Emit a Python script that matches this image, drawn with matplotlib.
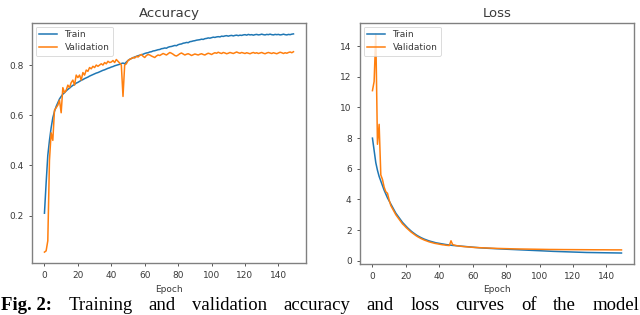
import matplotlib
matplotlib.use("Agg")
import matplotlib.pyplot as plt

epochs = list(range(150))

train_acc = [
    0.21, 0.33, 0.44, 0.50, 0.55, 0.59, 0.615, 0.635, 0.65, 0.665,
    0.675, 0.684, 0.690, 0.697, 0.703, 0.708, 0.714, 0.719, 0.723, 0.728,
    0.731, 0.735, 0.739, 0.742, 0.746, 0.749, 0.752, 0.756, 0.759, 0.762,
    0.765, 0.768, 0.770, 0.773, 0.776, 0.779, 0.781, 0.784, 0.787, 0.789,
    0.792, 0.794, 0.797, 0.799, 0.801, 0.803, 0.806, 0.808, 0.805, 0.812,
    0.818, 0.823, 0.826, 0.829, 0.832, 0.834, 0.837, 0.839, 0.841, 0.843,
    0.846, 0.848, 0.849, 0.852, 0.853, 0.856, 0.857, 0.859, 0.861, 0.862,
    0.865, 0.866, 0.868, 0.867, 0.871, 0.873, 0.874, 0.876, 0.878, 0.877,
    0.881, 0.883, 0.884, 0.887, 0.888, 0.890, 0.889, 0.893, 0.894, 0.896,
    0.897, 0.899, 0.900, 0.901, 0.903, 0.902, 0.905, 0.906, 0.908, 0.907,
    0.909, 0.911, 0.910, 0.912, 0.913, 0.912, 0.915, 0.914, 0.916, 0.917,
    0.915, 0.917, 0.918, 0.916, 0.918, 0.919, 0.917, 0.919, 0.918, 0.920,
    0.921, 0.919, 0.922, 0.920, 0.921, 0.919, 0.921, 0.922, 0.920, 0.921,
    0.923, 0.921, 0.920, 0.922, 0.921, 0.923, 0.921, 0.920, 0.922, 0.921,
    0.922, 0.920, 0.921, 0.923, 0.921, 0.920, 0.922, 0.921, 0.923, 0.924,
]

val_acc = [
    0.055, 0.06, 0.10, 0.42, 0.53, 0.50, 0.62, 0.63, 0.64, 0.66,
    0.61, 0.71, 0.69, 0.70, 0.72, 0.71, 0.73, 0.74, 0.72, 0.76,
    0.75, 0.76, 0.74, 0.77, 0.76, 0.78, 0.775, 0.79, 0.785, 0.795,
    0.79, 0.80, 0.795, 0.80, 0.805, 0.80, 0.81, 0.805, 0.815, 0.81,
    0.812, 0.818, 0.81, 0.822, 0.815, 0.808, 0.80, 0.675, 0.80, 0.805,
    0.818, 0.822, 0.826, 0.83, 0.828, 0.835, 0.832, 0.838, 0.842, 0.835,
    0.83, 0.838, 0.842, 0.84, 0.836, 0.833, 0.83, 0.836, 0.84, 0.838,
    0.842, 0.846, 0.843, 0.84, 0.845, 0.85, 0.847, 0.843, 0.838, 0.836,
    0.84, 0.845, 0.848, 0.844, 0.84, 0.843, 0.845, 0.842, 0.838, 0.841,
    0.844, 0.842, 0.84, 0.843, 0.845, 0.842, 0.84, 0.844, 0.847, 0.845,
    0.842, 0.846, 0.849, 0.847, 0.851, 0.848, 0.846, 0.85, 0.848, 0.845,
    0.847, 0.85, 0.848, 0.846, 0.849, 0.852, 0.849, 0.847, 0.85, 0.848,
    0.846, 0.849, 0.847, 0.845, 0.848, 0.85, 0.847, 0.849, 0.846, 0.848,
    0.85, 0.847, 0.845, 0.848, 0.85, 0.848, 0.846, 0.849, 0.847, 0.845,
    0.848, 0.851, 0.849, 0.846, 0.849, 0.847, 0.85, 0.852, 0.849, 0.853,
]

train_loss = [
    8.0, 7.2, 6.4, 5.9, 5.5, 5.2, 4.9, 4.6, 4.35, 4.1,
    3.9, 3.7, 3.5, 3.3, 3.1, 2.95, 2.8, 2.65, 2.5, 2.38,
    2.26, 2.15, 2.05, 1.95, 1.86, 1.78, 1.70, 1.63, 1.57, 1.51,
    1.46, 1.41, 1.37, 1.33, 1.29, 1.26, 1.23, 1.20, 1.17, 1.15,
    1.13, 1.11, 1.09, 1.07, 1.055, 1.04, 1.025, 1.01, 1.0, 0.99,
    0.975, 0.965, 0.955, 0.946, 0.935, 0.926, 0.915, 0.906, 0.895, 0.886,
    0.875, 0.868, 0.861, 0.852, 0.846, 0.838, 0.832, 0.824, 0.819, 0.812,
    0.806, 0.801, 0.794, 0.789, 0.782, 0.778, 0.772, 0.768, 0.762, 0.758,
    0.752, 0.748, 0.742, 0.738, 0.732, 0.728, 0.722, 0.718, 0.712, 0.708,
    0.702, 0.698, 0.692, 0.688, 0.682, 0.678, 0.672, 0.668, 0.662, 0.658,
    0.652, 0.648, 0.642, 0.638, 0.632, 0.628, 0.622, 0.618, 0.612, 0.608,
    0.602, 0.598, 0.594, 0.591, 0.586, 0.583, 0.578, 0.575, 0.570, 0.567,
    0.562, 0.559, 0.556, 0.553, 0.550, 0.547, 0.544, 0.542, 0.538, 0.536,
    0.532, 0.530, 0.528, 0.526, 0.524, 0.522, 0.520, 0.518, 0.516, 0.514,
    0.512, 0.511, 0.510, 0.509, 0.508, 0.507, 0.506, 0.505, 0.504, 0.503,
]

val_loss = [
    11.1, 11.7, 14.8, 7.6, 8.9, 5.6, 5.3, 4.8, 4.5, 4.4,
    3.95, 3.6, 3.4, 3.2, 3.0, 2.85, 2.7, 2.55, 2.4, 2.3,
    2.18, 2.08, 1.98, 1.88, 1.80, 1.72, 1.64, 1.57, 1.51, 1.45,
    1.40, 1.35, 1.31, 1.27, 1.23, 1.20, 1.17, 1.14, 1.12, 1.10,
    1.08, 1.06, 1.04, 1.03, 1.01, 1.00, 0.99, 1.30, 1.05, 1.02,
    0.99, 0.97, 0.955, 0.94, 0.93, 0.92, 0.91, 0.90, 0.89, 0.88,
    0.87, 0.865, 0.86, 0.852, 0.848, 0.842, 0.838, 0.833, 0.83, 0.825,
    0.82, 0.818, 0.812, 0.81, 0.805, 0.803, 0.798, 0.796, 0.792, 0.79,
    0.788, 0.785, 0.78, 0.778, 0.775, 0.772, 0.77, 0.768, 0.765, 0.762,
    0.76, 0.758, 0.755, 0.754, 0.752, 0.75, 0.748, 0.746, 0.745, 0.743,
    0.742, 0.740, 0.739, 0.741, 0.737, 0.736, 0.734, 0.736, 0.733, 0.731,
    0.732, 0.730, 0.728, 0.730, 0.727, 0.726, 0.728, 0.725, 0.724, 0.726,
    0.723, 0.722, 0.724, 0.721, 0.720, 0.722, 0.719, 0.718, 0.720, 0.717,
    0.716, 0.718, 0.715, 0.716, 0.714, 0.713, 0.715, 0.712, 0.713, 0.711,
    0.712, 0.710, 0.711, 0.709, 0.710, 0.708, 0.709, 0.707, 0.708, 0.706,
]

series_labels = ["Train", "Validation"]
titles = ["Accuracy", "Loss"]
xlabel = "Epoch"
caption_bold = "Fig. 2:"
caption_words = ["Training", "and", "validation", "accuracy", "and", "loss",
                 "curves", "of", "the", "model"]

text_c = "#3a3a3a"
spine_c = "#808080"
blue = "#1f77b4"
orange = "#ff7f0e"

fig = plt.figure(figsize=(6.4, 3.15), dpi=100)
ax1 = fig.add_axes([0.050, 0.165, 0.428, 0.762])
ax2 = fig.add_axes([0.5625, 0.162, 0.428, 0.765])

for ax, tr, va, title in [(ax1, train_acc, val_acc, titles[0]),
                          (ax2, train_loss, val_loss, titles[1])]:
    ax.plot(epochs, tr, color=blue, lw=1.1, label=series_labels[0])
    ax.plot(epochs, va, color=orange, lw=1.1, label=series_labels[1])
    ax.set_title(title, fontsize=9.5, color=text_c, pad=4)
    ax.set_xlabel(xlabel, fontsize=6.5, color=text_c, labelpad=3)
    ax.set_xticks([0, 20, 40, 60, 80, 100, 120, 140])
    ax.tick_params(labelsize=6.5, colors=text_c, length=2.5, width=0.6, pad=3.5)
    for s in ax.spines.values():
        s.set_color(spine_c)
        s.set_linewidth(1.0)
    leg = ax.legend(loc="upper left", fontsize=6.5, handlelength=2.0,
                    borderpad=0.4, labelspacing=0.45, framealpha=0.8,
                    borderaxespad=0.4)
    leg.get_frame().set_linewidth(0.6)
    for t in leg.get_texts():
        t.set_color(text_c)

ax1.set_yticks([0.2, 0.4, 0.6, 0.8])
ax2.set_yticks([0, 2, 4, 6, 8, 10, 12, 14])

# caption, justified across the figure width
cap_y = 1 - 297 / 315
fsz = 13.5
fig.canvas.draw()
renderer = fig.canvas.get_renderer()
texts = [fig.text(0, cap_y, caption_bold, fontsize=fsz, fontweight="bold",
                  family="Liberation Serif", va="top", ha="left")]
for w in caption_words:
    texts.append(fig.text(0, cap_y, w, fontsize=fsz, family="Liberation Serif",
                          va="top", ha="left"))
widths = [t.get_window_extent(renderer).width for t in texts]
total_w = 638.0
gap = (total_w - sum(widths)) / (len(texts) - 1)
x = 1.0
for t, w in zip(texts, widths):
    t.set_x(x / 640.0)
    x += w + gap

fig.savefig("out.png", dpi=100)
